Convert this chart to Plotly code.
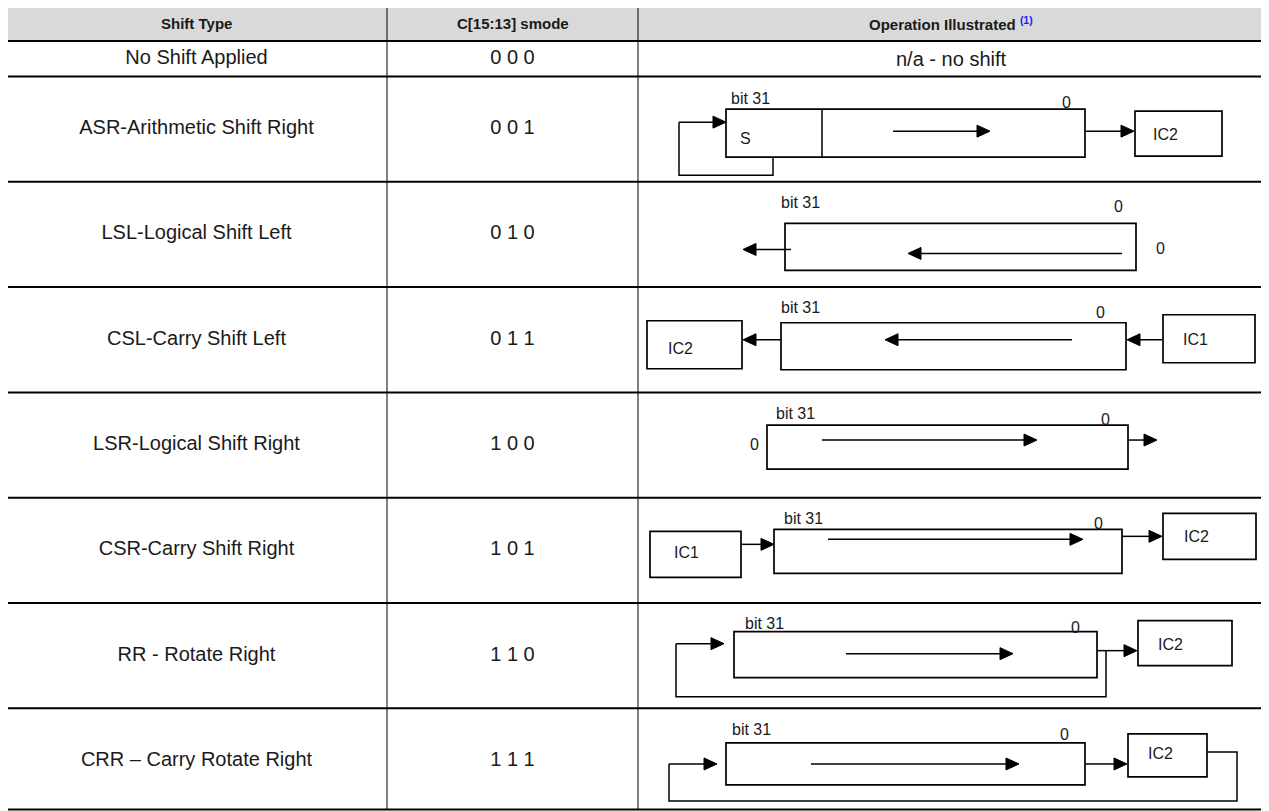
import plotly.graph_objects as go

W, H = 1269, 811
PAGE_OFFSET = 8  # the browser puts the plot 8px in from the page corner

headers = ["Shift Type", "C[15:13] smode", "Operation Illustrated"]
footnote = "(1)"
shift_types = [
    "No Shift Applied",
    "ASR-Arithmetic Shift Right",
    "LSL-Logical Shift Left",
    "CSL-Carry Shift Left",
    "LSR-Logical Shift Right",
    "CSR-Carry Shift Right",
    "RR - Rotate Right",
    "CRR \u2013 Carry Rotate Right",
]
smode_codes = ["0 0 0", "0 0 1", "0 1 0", "0 1 1", "1 0 0", "1 0 1", "1 1 0", "1 1 1"]
operations = ["none", "ASR", "LSL", "CSL", "LSR", "CSR", "RR", "CRR"]
no_shift_text = "n/a - no shift"

# table layout in pixels
col_x = [6, 387, 638, 1264]
table_top = 6
header_h = 35
first_row_h = 35.5
row_h = 105.3

FONT = "Liberation Sans, Arial, sans-serif"
INK = "#1a1a1a"
CELL_SIZE = 20
HEAD_SIZE = 15
DIAG_SIZE = 16

row_lines = [table_top, table_top + header_h, table_top + header_h + first_row_h]
for i in range(len(shift_types) - 1):
    row_lines.append(row_lines[-1] + row_h)
header_mid = (row_lines[0] + row_lines[1]) / 2
row_mid = [(row_lines[i + 1] + row_lines[i + 2]) / 2 for i in range(len(shift_types))]
row_lines[-1] = min(row_lines[-1], H - 1.5)

# diagram pieces, x in px, y as offset from the row middle
diagrams = {
    "ASR": [
        ("text", 750, -31, "bit 31"), ("text", 1066, -27, "0"),
        ("box", 726, 1085, -20, 28), ("vline", 822, -20, 28),
        ("text", 745, 9, "S"),
        ("arrow", 893, 2, 990, 2),
        ("poly", [(773, 28), (773, 46), (679, 46), (679, -7)]),
        ("arrow", 679, -7, 726, -7),
        ("arrow", 1085, 2, 1134, 2),
        ("box", 1135, 1222, -18, 27), ("text", 1165, 5, "IC2"),
    ],
    "LSL": [
        ("text", 800, -32, "bit 31"), ("text", 1118, -28, "0"),
        ("box", 785, 1136, -11, 36),
        ("arrow", 1122, 19, 908, 19),
        ("arrow", 791, 15, 743, 15),
        ("text", 1160, 14, "0"),
    ],
    "CSL": [
        ("text", 800, -32, "bit 31"), ("text", 1100, -27, "0"),
        ("box", 781, 1126, -17, 30),
        ("arrow", 1072, 0, 885, 0),
        ("arrow", 781, 0, 743, 0),
        ("box", 647, 742, -19, 29), ("text", 680, 9, "IC2"),
        ("arrow", 1163, 0, 1127, 0),
        ("box", 1163, 1255, -25, 23), ("text", 1195, 0, "IC1"),
    ],
    "LSR": [
        ("text", 795, -32, "bit 31"), ("text", 1105, -26, "0"),
        ("box", 767, 1128, -20, 24),
        ("text", 754, -1, "0"),
        ("arrow", 822, -5, 1037, -5),
        ("arrow", 1128, -5, 1157, -5),
    ],
    "CSR": [
        ("text", 803, -32, "bit 31"), ("text", 1098, -27, "0"),
        ("box", 774, 1122, -21, 23),
        ("arrow", 828, -11, 1083, -11),
        ("box", 650, 741, -19, 27), ("text", 686, 2, "IC1"),
        ("arrow", 741, -6, 774, -6),
        ("arrow", 1122, -14, 1162, -14),
        ("box", 1163, 1256, -37, 9), ("text", 1196, -14, "IC2"),
    ],
    "RR": [
        ("text", 764, -32, "bit 31"), ("text", 1075, -28, "0"),
        ("box", 734, 1097, -24, 22),
        ("arrow", 846, -2, 1013, -2),
        ("arrow", 1097, -5, 1137, -5),
        ("box", 1138, 1232, -35, 10), ("text", 1170, -11, "IC2"),
        ("poly", [(1106, -5), (1106, 41), (676, 41), (676, -12)]),
        ("arrow", 676, -12, 724, -12),
    ],
    "CRR": [
        ("text", 751, -31, "bit 31"), ("text", 1064, -26, "0"),
        ("box", 726, 1085, -18, 24),
        ("arrow", 811, 3, 1019, 3),
        ("arrow", 1085, 3, 1127, 3),
        ("box", 1128, 1207, -27, 16), ("text", 1160, -7, "IC2"),
        ("poly", [(1207, -9), (1237, -9), (1237, 40), (669, 40), (669, 3)]),
        ("arrow", 669, 3, 717, 3),
    ],
}

shapes = []
annotations = []


def line(x0, y0, x1, y1, width=1.5):
    shapes.append(dict(type="line", x0=x0, y0=y0, x1=x1, y1=y1, xref="x", yref="y",
                       line=dict(color="black", width=width)))


def arrow(x0, y0, x1, y1):
    # straight shaft, filled triangular head at (x1, y1)
    hl, hw = 13, 6
    d = 1 if x1 > x0 else -1
    line(x0, y0, x1 - d * hl, y1)
    path = f"M {x1},{y1} L {x1 - d * hl},{y1 - hw} L {x1 - d * hl},{y1 + hw} Z"
    shapes.append(dict(type="path", path=path, xref="x", yref="y",
                       fillcolor="black", line=dict(color="black", width=1)))


def label(x, y, s, size=DIAG_SIZE, **kw):
    annotations.append(dict(x=x, y=y, xref="x", yref="y", text=s, showarrow=False,
                            font=dict(family=FONT, size=size, color=INK),
                            xanchor="center", yanchor="middle", **kw))


def draw_diagram(name, cy):
    for item in diagrams[name]:
        kind = item[0]
        if kind == "text":
            label(item[1], cy + item[2], item[3])
        elif kind == "box":
            shapes.append(dict(type="rect", x0=item[1], x1=item[2], y0=cy + item[3], y1=cy + item[4],
                               xref="x", yref="y", line=dict(color="black", width=1.7)))
        elif kind == "vline":
            line(item[1], cy + item[2], item[1], cy + item[3])
        elif kind == "arrow":
            arrow(item[1], cy + item[2], item[3], cy + item[4])
        elif kind == "poly":
            pts = item[1]
            path = "M " + " L ".join(f"{x},{cy + y}" for x, y in pts)
            shapes.append(dict(type="path", path=path, xref="x", yref="y",
                               line=dict(color="black", width=1.5)))


# header background
shapes.append(dict(type="rect", x0=col_x[0], x1=col_x[-1], y0=row_lines[0], y1=row_lines[1],
                   xref="x", yref="y", fillcolor="#d9d9d9", line=dict(width=0), layer="below"))

# grid
for y in row_lines:
    line(col_x[0], y, col_x[-1], y, width=2)
for x in col_x:
    line(x, row_lines[0], x, row_lines[-1], width=1)

# header text
for i, h in enumerate(headers):
    cx = (col_x[i] + col_x[i + 1]) / 2
    txt = f"<b>{h}</b>"
    if i == 2:
        txt += f" <sup><span style='color:#1a1aff'><b>{footnote}</b></span></sup>"
    label(cx, header_mid, txt, size=HEAD_SIZE)

# operations column
for op, cy in zip(operations, row_mid):
    if op == "none":
        label((col_x[2] + col_x[3]) / 2, cy, no_shift_text, size=CELL_SIZE)
    else:
        draw_diagram(op, cy)

fig = go.Figure()
fig.add_trace(go.Scatter(
    x=[(col_x[0] + col_x[1]) / 2] * len(shift_types) + [(col_x[1] + col_x[2]) / 2] * len(smode_codes),
    y=row_mid + row_mid,
    text=shift_types + smode_codes,
    mode="text",
    textposition="middle center",
    textfont=dict(family=FONT, size=CELL_SIZE, color=INK),
    hoverinfo="skip",
    showlegend=False,
))

fig.update_layout(
    width=W,
    height=H,
    margin=dict(l=0, r=0, t=0, b=0),
    paper_bgcolor="white",
    plot_bgcolor="white",
    shapes=shapes,
    annotations=annotations,
    xaxis=dict(range=[PAGE_OFFSET, W + PAGE_OFFSET], visible=False, fixedrange=True),
    yaxis=dict(range=[H + PAGE_OFFSET, PAGE_OFFSET], visible=False, fixedrange=True),
)

fig.write_html("out.html")
